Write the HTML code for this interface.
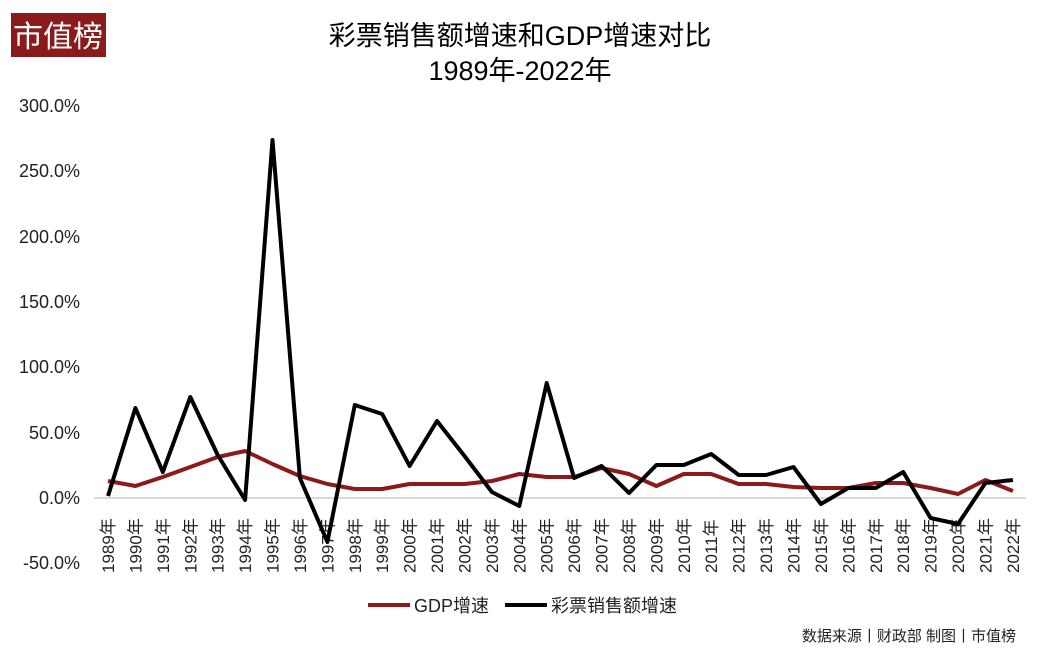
<!DOCTYPE html>
<html><head><meta charset="utf-8"><style>
body{margin:0;background:#fff;width:1049px;height:650px;overflow:hidden;font-family:"Liberation Sans","Noto Sans CJK SC",sans-serif}
</style></head><body>
<svg width="1049" height="650" xmlns="http://www.w3.org/2000/svg" font-family="Liberation Sans, Noto Sans CJK SC, sans-serif">
<rect x="11" y="13" width="95" height="44" fill="#8b1a1a"/>
<text x="58" y="47" text-anchor="middle" fill="#fff" font-size="30" font-family="Noto Sans CJK SC, sans-serif">市值榜</text>
<text x="520" y="45" text-anchor="middle" font-size="27" fill="#000">彩票销售额增速和GDP增速对比</text>
<text x="520" y="80" text-anchor="middle" font-size="27" fill="#000">1989年-2022年</text>
<g font-size="18" fill="#222" text-anchor="end">
<text x="80" y="112">300.0%</text><text x="80" y="177">250.0%</text><text x="80" y="243">200.0%</text>
<text x="80" y="308">150.0%</text><text x="80" y="373">100.0%</text><text x="80" y="439">50.0%</text>
<text x="80" y="504">0.0%</text><text x="80" y="569">-50.0%</text>
</g>
<line x1="94" y1="498" x2="1026" y2="498" stroke="#d9d9d9" stroke-width="2"/>
<g id="xl" font-size="17" fill="#222"></g>
<polyline id="gdp" fill="none" stroke="#8b1a1a" stroke-width="4" stroke-linejoin="round"/>
<polyline id="lot" fill="none" stroke="#000" stroke-width="4" stroke-linejoin="round"/>
<line x1="368" y1="605" x2="410" y2="605" stroke="#8b1a1a" stroke-width="4"/>
<text x="414" y="612" font-size="18" fill="#222">GDP增速</text>
<line x1="505" y1="605" x2="547" y2="605" stroke="#000" stroke-width="4"/>
<text x="551" y="612" font-size="18" fill="#222">彩票销售额增速</text>
<text x="1016" y="641" text-anchor="end" font-size="15" fill="#222">数据来源丨财政部 制图丨市值榜</text>
</svg>
<script>
var g=[481,486,477,467,457,451,464,476,484,489,489,484,484,484,481,474,477,477,468,474,486,474,474,484,484,487,488,488,483,483,488,494,480,491];
var l=[496,408,472,397,455,500,140,478,542,405,414,466,421,456,492,506,383,478,466,493,465,465,454,475,475,467,504,488,488,472,518,524,483,480];
function pts(a){return a.map(function(y,i){return (108+27.42*i).toFixed(1)+","+y}).join(" ")}
document.getElementById("gdp").setAttribute("points",pts(g));
document.getElementById("lot").setAttribute("points",pts(l));
var xl=document.getElementById("xl"),s="";
for(var i=0;i<34;i++){var x=108+27.42*i+6;s+='<text transform="translate('+x.toFixed(1)+',573) rotate(-90)">'+(1989+i)+'年</text>';}
xl.innerHTML=s;
</script>
</body></html>
